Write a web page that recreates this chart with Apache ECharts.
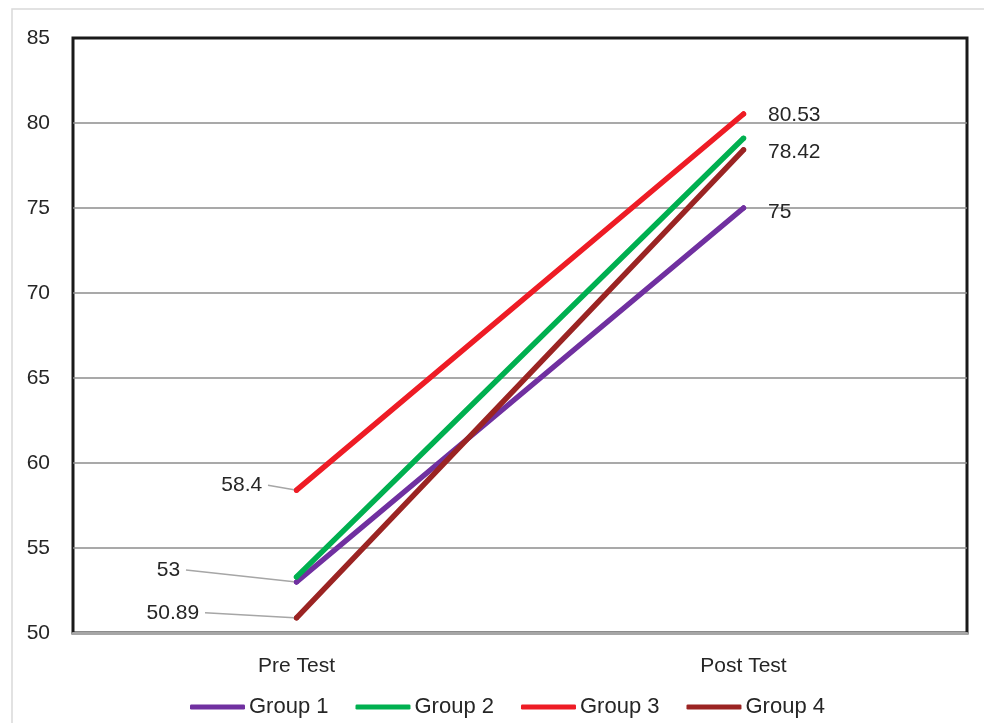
<!DOCTYPE html>
<html><head><meta charset="utf-8">
<script src="https://cdn.jsdelivr.net/npm/echarts@6/dist/echarts.min.js"></script>
<style>html,body{margin:0;padding:0;background:#fff}#c{width:984px;height:723px}</style>
</head><body><div id="c"></div>
<script>
const categories = ['Pre Test', 'Post Test'];
const seriesNames = ['Group 1', 'Group 2', 'Group 3', 'Group 4'];
const group1 = [53, 75];
const group2 = [53.3, 79.1];
const group3 = [58.4, 80.53];
const group4 = [50.89, 78.42];
const yTicks = [50, 55, 60, 65, 70, 75, 80, 85];

const colors = ['#7030a0', '#00b050', '#ee1c25', '#9b2423'];
const FONT = '"Liberation Sans", Arial, sans-serif';
const values = [group1, group2, group3, group4];
const showLabels = [true, false, true, true];
const preShift = [[-103, -12], null, [-21, -5], [-84, -5]];
const postShift = [4, 0, 1, 2];

const chart = echarts.init(document.getElementById('c'));
const series = values.map((arr, si) => ({
  name: seriesNames[si],
  type: 'line',
  symbol: 'circle',
  symbolSize: 5,
  z: si === 1 ? 3 : 2,
  lineStyle: { width: 5.5, color: colors[si], cap: 'round' },
  itemStyle: { color: colors[si] },
  emphasis: { disabled: true },
  data: arr.map((v, i) => ({
    value: v,
    label: {
      show: showLabels[si],
      position: i === 0 ? 'left' : 'right',
      distance: i === 0 ? 5 : 22,
      color: '#262626', fontSize: 21, fontFamily: FONT,
      formatter: i === 0 ? String(v) + ' ' : String(v)
    },
    labelLine: { show: i === 0 && showLabels[si], lineStyle: { color: '#a6a6a6', width: 1.5 } }
  })),
  labelLayout: function (p) {
    if (p.dataIndex === 0 && preShift[si]) return { dx: preShift[si][0], dy: preShift[si][1] };
    if (p.dataIndex === 1) return { dy: postShift[si] };
    return {};
  }
}));

chart.setOption({
  animation: false,
  backgroundColor: '#fff',
  color: colors,
  graphic: [{ type: 'rect', shape: { x: 12, y: 9, width: 1000, height: 800 }, style: { fill: 'none', stroke: '#d9d9d9', lineWidth: 1.5 }, silent: true, z: -10 }],
  grid: { left: 73, right: 17, top: 38, bottom: 90, show: true, borderColor: '#1a1a1a', borderWidth: 3, backgroundColor: '#fff' },
  legend: {
    bottom: 0, left: 185,
    data: seriesNames,
    icon: 'roundRect', itemWidth: 55, itemHeight: 5, itemGap: 27,
    textStyle: { color: '#262626', fontSize: 22, fontFamily: FONT, padding: [0, 0, 0, -1] }
  },
  xAxis: {
    type: 'category', data: categories, boundaryGap: true,
    axisLine: { show: true, lineStyle: { color: '#a6a6a6', width: 3 } },
    axisTick: { show: false },
    axisLabel: { color: '#262626', fontSize: 21, fontFamily: FONT, margin: 23 }
  },
  yAxis: {
    type: 'value', min: yTicks[0], max: yTicks[yTicks.length - 1], interval: 5,
    axisLine: { show: false }, axisTick: { show: false },
    axisLabel: { color: '#262626', fontSize: 21, fontFamily: FONT, margin: 23 },
    splitLine: { show: true, showMaxLine: false, showMinLine: false, lineStyle: { color: '#8c8c8c', width: 1.5 } }
  },
  series: series
});
</script></body></html>
